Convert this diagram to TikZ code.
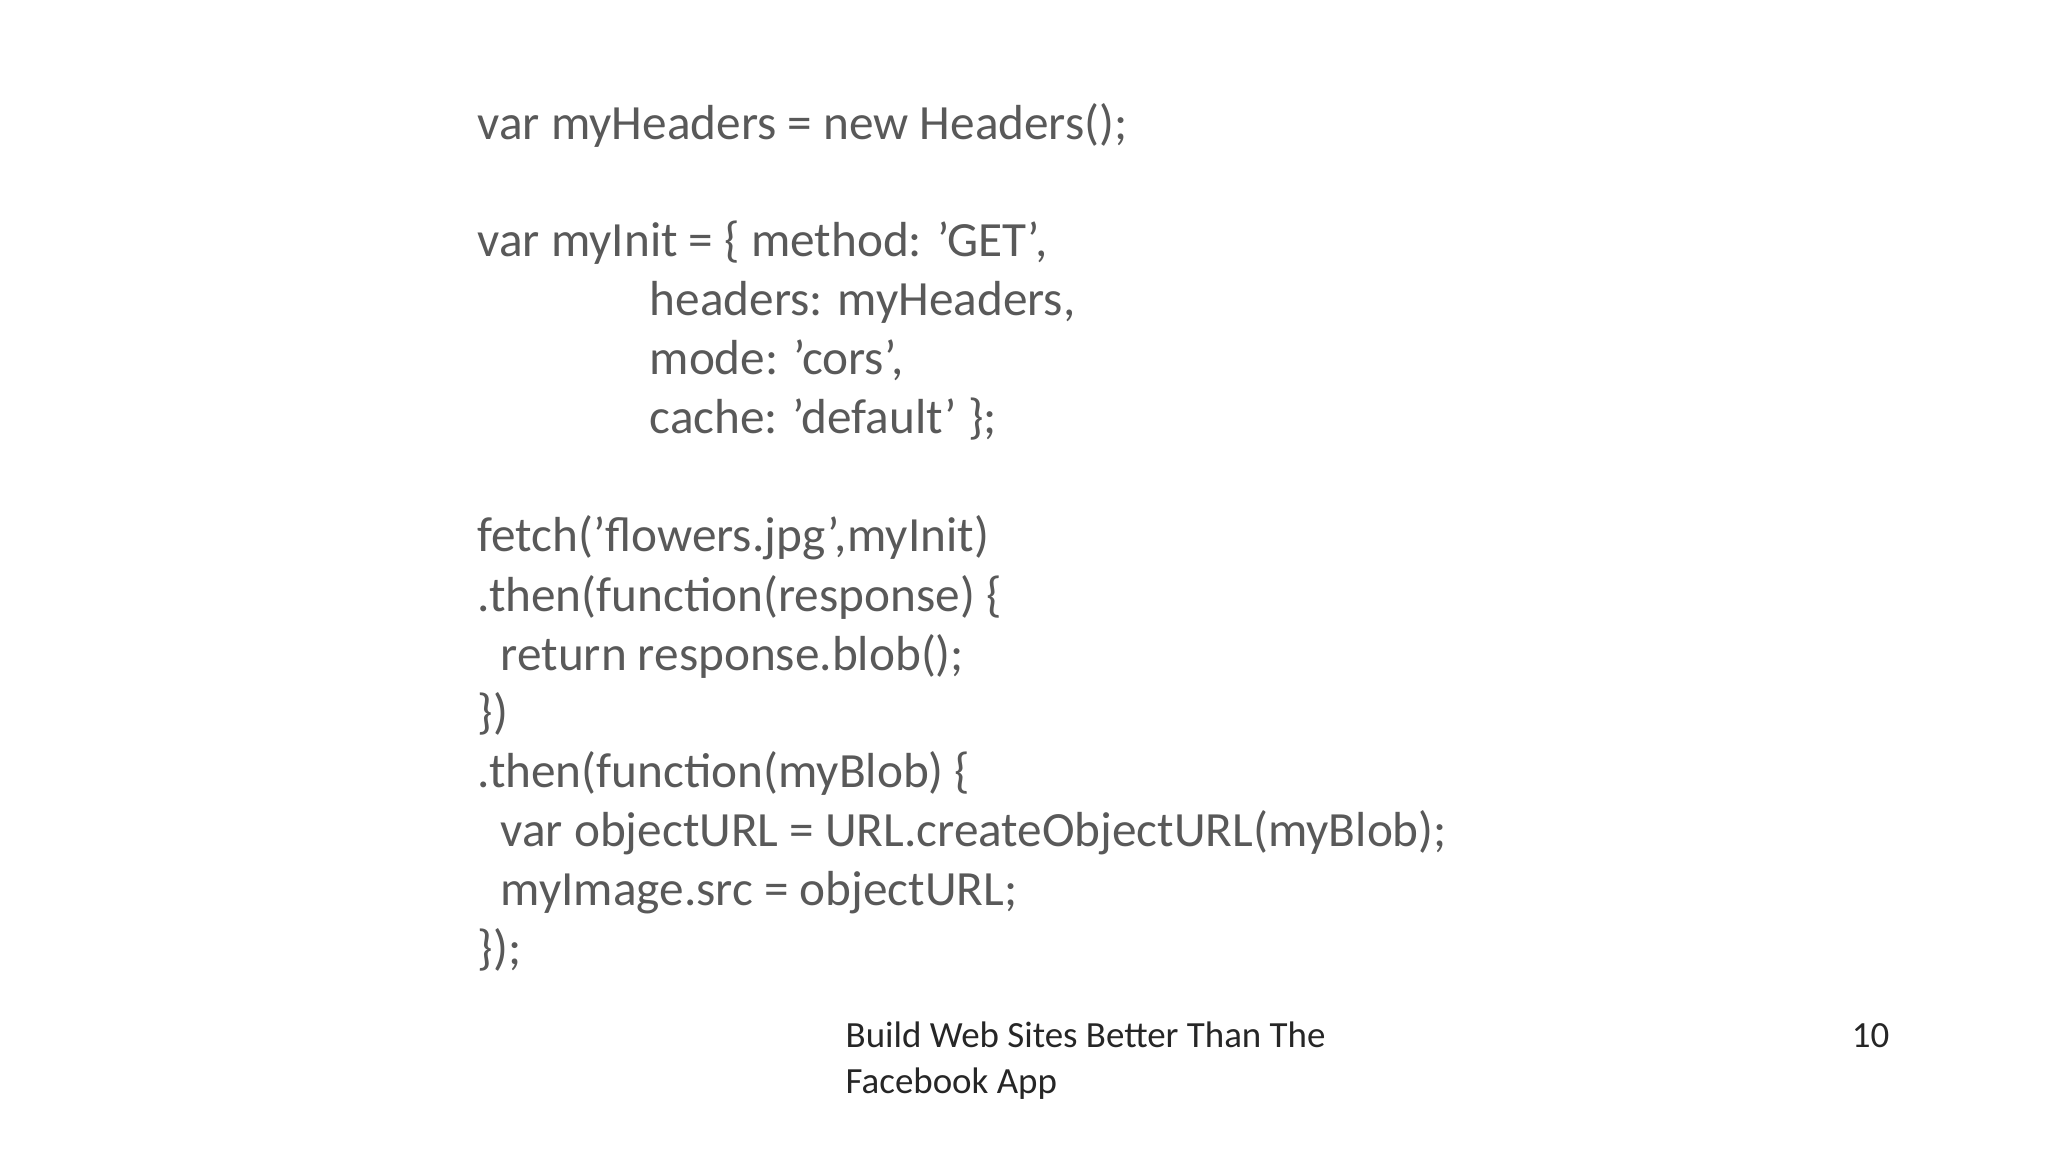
\documentclass[tikz,border=0pt]{standalone}
\usepackage{fontspec}
\setmainfont{Carlito}
\definecolor{codegray}{HTML}{595959}
\definecolor{footgray}{HTML}{262626}
\begin{document}
\begin{tikzpicture}[x=0.01cm,y=-0.01cm,
  code/.style={anchor=base west,inner sep=0pt,font=\fontsize{14}{16}\selectfont,text=codegray},
  foot/.style={anchor=base west,inner sep=0pt,font=\fontsize{10.5}{12}\selectfont,text=footgray}]
\useasboundingbox[fill=white] (0,0) rectangle (2048,1152);
\def\L{477}\def\I{649}\def\R{500}
\node[code] (l1) at (\L,140) {var myHeaders = new Headers();};
\node[code] (l2) at (\L,257) {var myInit = \{ method: 'GET',};
\node[code] (l3) at (\I,316) {headers: myHeaders,};
\node[code] (l4) at (\I,375) {mode: 'cors',};
\node[code] (l5) at (\I,434) {cache: 'default' \};};
\node[code] (l6) at (\L,552) {fetch('flowers.jpg',myInit)};
\node[code] (l7) at (\L,611) {.then(function(response) \{};
\node[code] (l8) at (\R,670) {return response.blob();};
\node[code] (l9) at (\L,728) {\})};
\node[code] (l10) at (\L,787) {.then(function(myBlob) \{};
\node[code] (l11) at (\R,846) {var objectURL = URL.createObjectURL(myBlob);};
\node[code] (l12) at (\R,905) {myImage.src = objectURL;};
\node[code] (l13) at (\L,964) {\});};
\node[foot] (f1) at (845,1047) {Build Web Sites Better Than The};
\node[foot] (f2) at (845,1093) {Facebook App};
\node[foot,anchor=base east] (pg) at (1890,1047) {10};
\end{tikzpicture}
\end{document}
